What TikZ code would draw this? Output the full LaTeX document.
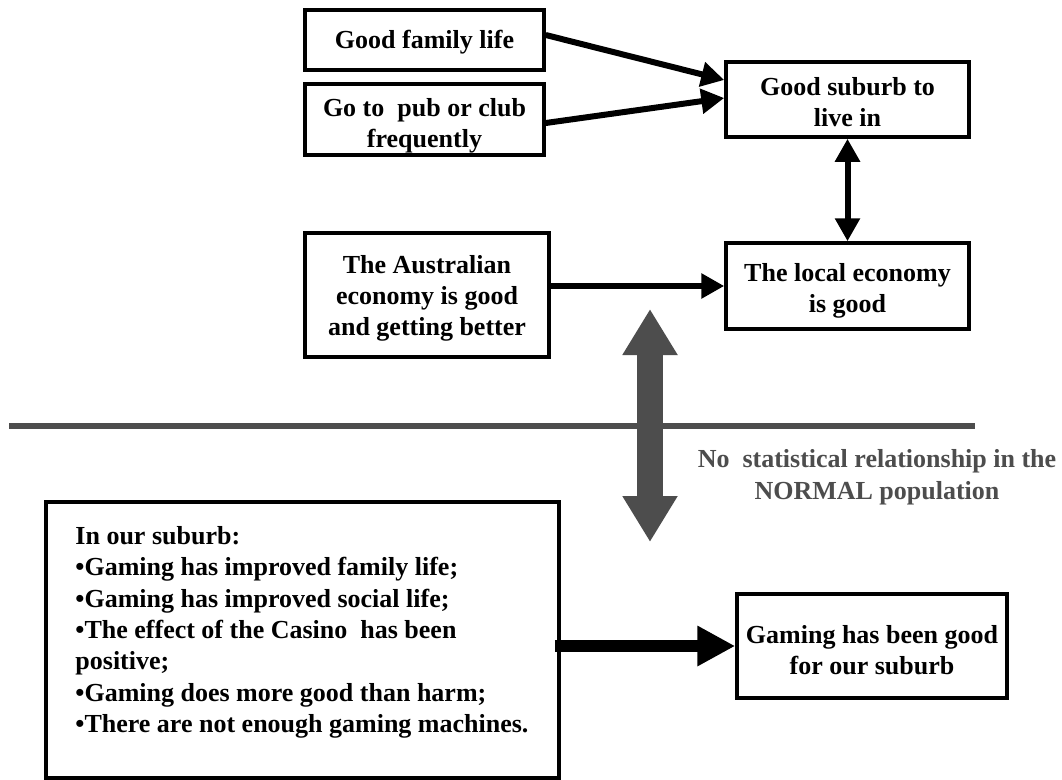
\documentclass[tikz,border=0pt]{standalone}
\usepackage{fontspec}
\setmainfont{Liberation Serif}
\usetikzlibrary{arrows.meta,calc}
\definecolor{darkg}{RGB}{77,77,77}
\newcommand{\mystrut}[1]{\rule{0pt}{#1}}
\begin{document}
\begin{tikzpicture}[x=1pt,y=-1pt,
  box/.style={draw, line width=3.5pt, inner sep=0pt, align=center,
    font=\bfseries\fontsize{26}{31}\selectfont},
  conn/.style={line width=6pt, -{Triangle[length=23pt,width=24pt]}},
  biconn/.style={line width=6pt, {Triangle[length=23pt,width=24pt]}-{Triangle[length=23pt,width=24pt]}},
  bigconn/.style={line width=12pt, -{Triangle[length=38pt,width=38pt]}},
  grayarrow/.style={darkg, line width=26pt, {Triangle[length=46pt,width=52pt]}-{Triangle[length=46pt,width=52pt]}},
  divider/.style={darkg, line width=6pt},
  graytext/.style={text=darkg, align=center, inner sep=0pt, font=\bfseries\fontsize{26}{32}\selectfont},
  listtext/.style={anchor=north west, inner sep=0pt, align=left, font=\bfseries\fontsize{26}{31.3}\selectfont}]
\path[fill=white, use as bounding box] (0,0) rectangle (1062,779);

% divider line and grey double arrow
\coordinate (l1) at (9,426);
\coordinate (l2) at (975,426);
\draw[divider] (l1) -- (l2);
\coordinate (g1) at (650,309);
\coordinate (g2) at (650,542);
\draw[grayarrow] (g1) -- (g2);

% boxes
\node[box, minimum width=239pt, minimum height=60pt] (fam) at (424.5,40) {\mystrut{23pt}Good family life};
\node[box, minimum width=239pt, minimum height=71pt] (pub) at (424.5,119.5) {\mystrut{30pt}Go to\ \ pub or club\\frequently};
\node[box, minimum width=243pt, minimum height=75pt] (sub) at (847.5,99.5) {\mystrut{23pt}Good suburb to\\live in};
\node[box, minimum width=244pt, minimum height=124pt] (aus) at (427,295) {\mystrut{25pt}The Australian\\economy is good\\and getting better};
\node[box, minimum width=243pt, minimum height=86pt] (loc) at (847.5,286) {\mystrut{28pt}The local economy\\is good};
\node[box, minimum width=270pt, minimum height=104pt] (gam) at (872,646) {\mystrut{27pt}Gaming has been good\\for our suburb};
\node[box, minimum width=513pt, minimum height=276pt] (claims) at (302.5,640) {};
\node[listtext] (claimtxt) at ([xshift=31pt,yshift=-26pt]claims.north west)
  {In our suburb:\\
   •Gaming has improved family life;\\
   •Gaming has improved social life;\\
   •The effect of the Casino\ \ has been\\
   positive;\\
   •Gaming does more good than harm;\\
   •There are not enough gaming machines.};
\node[graytext] (nostat) at (877,477) {No\ \ statistical relationship in the\\NORMAL population};

% connectors
\draw[conn] ([yshift=5pt]fam.east) -- ([yshift=19.5pt]sub.west);
\draw[conn] ([yshift=-3.5pt]pub.east) -- ([yshift=1.5pt]sub.west);
\draw[biconn] (sub.south) -- (loc.north);
\draw[conn] (aus.east |- loc.west) -- (loc.west);
\draw[bigconn] ($(claims.east |- gam.west)+(-6,0)$) -- (gam.west);
\end{tikzpicture}
\end{document}
